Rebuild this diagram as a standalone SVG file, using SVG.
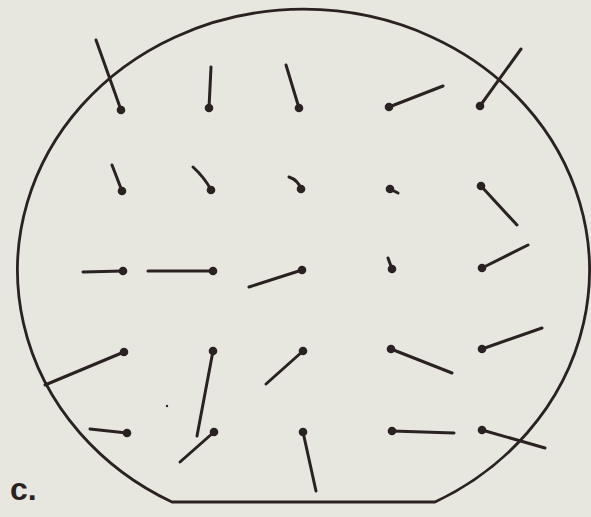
<svg xmlns="http://www.w3.org/2000/svg" width="591" height="517" viewBox="0 0 591 517">
<style>
.v line{stroke:#2a2222;stroke-width:3;stroke-linecap:round}
.v path{fill:none;stroke:#2a2222;stroke-width:3;stroke-linecap:round}
.v circle{fill:#2a2222}
.outline{fill:none;stroke:#2a2222;stroke-width:2.8;stroke-linejoin:round}
.lbl{font-family:"Liberation Sans",Arial,sans-serif;font-weight:bold;font-size:32px;fill:#2a2222}
</style>
<rect width="591" height="517" fill="#e7e7df"/>
<g id="wafer">
<path class="outline" d="M172 502 L435 502 A286 261 0 1 0 172 502 Z"/>
</g>
<g id="vectors" class="v">
<g id="r1c1"><line x1="121" y1="110" x2="96" y2="40"/><circle cx="121" cy="110" r="4.3"/></g>
<g id="r1c2"><line x1="209" y1="108" x2="211" y2="67"/><circle cx="209" cy="108" r="4.3"/></g>
<g id="r1c3"><line x1="299" y1="108" x2="286" y2="65"/><circle cx="299" cy="108" r="4.3"/></g>
<g id="r1c4"><line x1="389" y1="107" x2="443" y2="86"/><circle cx="389" cy="107" r="4.3"/></g>
<g id="r1c5"><line x1="480" y1="106" x2="521" y2="49"/><circle cx="480" cy="106" r="4.3"/></g>

<g id="r2c1"><line x1="122" y1="191" x2="112" y2="165"/><circle cx="122" cy="191" r="4.3"/></g>
<g id="r2c2"><path d="M211 190 Q205 178 193 167"/><circle cx="211" cy="190" r="4.3"/></g>
<g id="r2c3"><path d="M301 189 Q298 180 289 177"/><circle cx="301" cy="189" r="4.3"/></g>
<g id="r2c4"><line x1="390" y1="189" x2="398" y2="193"/><circle cx="390" cy="189" r="4.3"/></g>
<g id="r2c5"><line x1="481" y1="186" x2="517" y2="225"/><circle cx="481" cy="186" r="4.3"/></g>

<g id="r3c1"><line x1="123" y1="271" x2="83" y2="272"/><circle cx="123" cy="271" r="4.3"/></g>
<g id="r3c2"><line x1="213" y1="271" x2="148" y2="271"/><circle cx="213" cy="271" r="4.3"/></g>
<g id="r3c3"><line x1="302" y1="270" x2="249" y2="287"/><circle cx="302" cy="270" r="4.3"/></g>
<g id="r3c4"><line x1="392" y1="269" x2="388" y2="258"/><circle cx="392" cy="269" r="4.3"/></g>
<g id="r3c5"><line x1="482" y1="268" x2="528" y2="245"/><circle cx="482" cy="268" r="4.3"/></g>

<g id="r4c1"><line x1="124" y1="352" x2="45" y2="385"/><circle cx="124" cy="352" r="4.3"/></g>
<g id="r4c2"><line x1="213" y1="351" x2="197" y2="436"/><circle cx="213" cy="351" r="4.3"/></g>
<g id="r4c3"><line x1="303" y1="351" x2="266" y2="384"/><circle cx="303" cy="351" r="4.3"/></g>
<g id="r4c4"><line x1="391" y1="349" x2="452" y2="373"/><circle cx="391" cy="349" r="4.3"/></g>
<g id="r4c5"><line x1="482" y1="349" x2="542" y2="328"/><circle cx="482" cy="349" r="4.3"/></g>

<g id="r5c1"><line x1="127" y1="433" x2="90" y2="429"/><circle cx="127" cy="433" r="4.3"/></g>
<g id="r5c2"><line x1="214" y1="432" x2="180" y2="462"/><circle cx="214" cy="432" r="4.3"/></g>
<g id="r5c3"><line x1="303" y1="432" x2="316" y2="491"/><circle cx="303" cy="432" r="4.3"/></g>
<g id="r5c4"><line x1="392" y1="431" x2="454" y2="433"/><circle cx="392" cy="431" r="4.3"/></g>
<g id="r5c5"><line x1="482" y1="430" x2="545" y2="448"/><circle cx="482" cy="430" r="4.3"/></g>
<circle cx="167" cy="406" r="1.2"/>
</g>
<text class="lbl" x="10" y="500">c.</text>
</svg>
